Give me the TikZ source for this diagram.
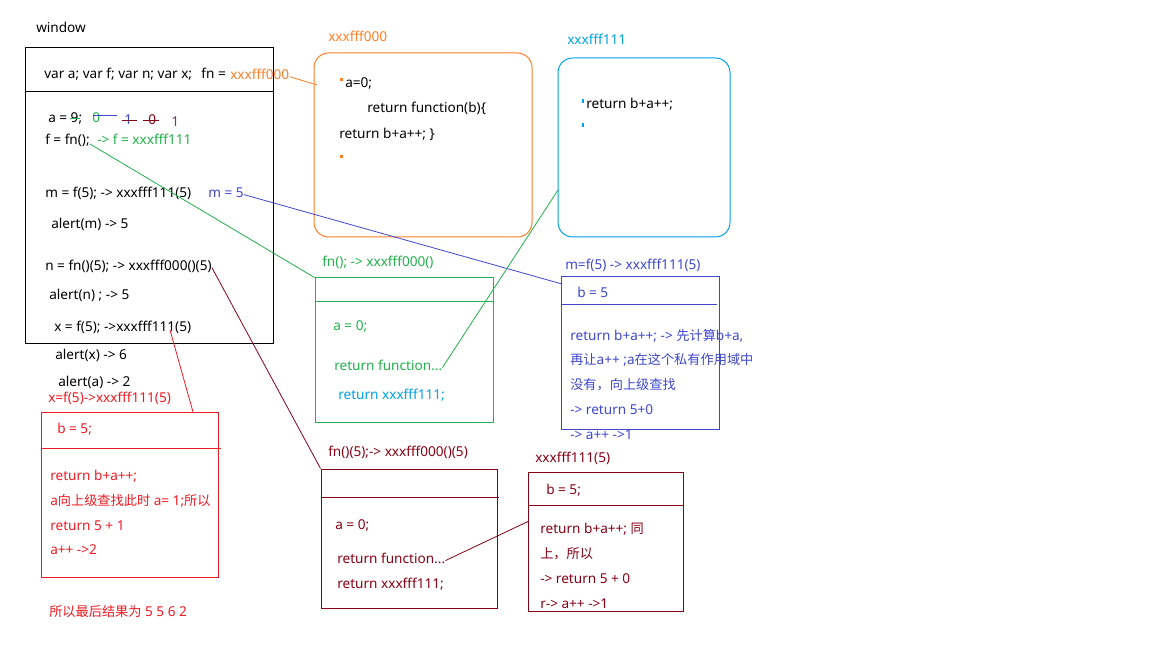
\documentclass[tikz,border=0pt]{standalone}
\usepackage{fontspec}
\setmainfont{Noto Sans}
\newfontfamily\cjk[Scale=0.97]{Noto Sans CJK SC}
\newcommand\zh[1]{{\cjk #1}}
\usetikzlibrary{fit}
\definecolor{porange}{HTML}{FF7F27}
\definecolor{pcyan}{HTML}{00A2E8}
\definecolor{pgreen}{HTML}{22B14C}
\definecolor{pindigo}{HTML}{3F48CC}
\definecolor{pmaroon}{HTML}{880015}
\definecolor{pred}{HTML}{ED1C24}
\definecolor{pplum}{HTML}{8B2A7A}
\begin{document}
\begin{tikzpicture}[x=0.75pt,y=-0.75pt,
  font=\fontsize{10.2}{12}\selectfont,
  txt/.style={anchor=west, inner sep=0pt, text height=7pt, text depth=2pt, yshift=-1.2pt},
  box/.style={draw, inner sep=0pt, line width=0.75pt},
  rbox/.style={box, rounded corners=11pt},
  link/.style={line width=0.6pt}]
\path[use as bounding box, fill=white] (0,0) rectangle (1152,648);

% ---------- global scope (window) ----------
\node[txt] (lwin) at (36,28) {window};
\node[box, fit={(25,48)(273,344)}] (win) {};
\draw[line width=0.75pt] (25,92) -- (273,92);
\node[txt] (decl) at (44,74) {var a; var f; var n; var x;\hspace{7pt}fn =};
\node[txt, text=porange] (fnaddr) at (230,75) {xxxfff000};
\node[txt] (aset) at (48,118) {a = 9;};
\node[txt, text=pgreen] (a0) at (92,118) {0};
\node[txt, text=pindigo] (a1) at (124,120) {1};
\node[txt, text=pmaroon] (a2) at (148,120) {0};
\node[txt, text=pplum] (a3) at (171,122) {1};
\draw[pgreen, link] (70,118) -- (80,118);
\draw[pindigo, link] (93,115) -- (117,115);
\draw[pmaroon, link] (122,120) -- (137,120);
\draw[pmaroon, link] (143,120) -- (159,120);
\node[txt] (fset) at (45,140) {f = fn();};
\node[txt, text=pgreen] (fres) at (97,140) {-> f = xxxfff111};
\node[txt] (mset) at (45,193) {m = f(5); -> xxxfff111(5)};
\node[txt, text=pindigo] (mres) at (208,193) {m = 5};
\node[txt] (malert) at (51,224) {alert(m) -> 5};
\node[txt] (nset) at (45,266) {n = fn()(5); -> xxxfff000()(5)};
\node[txt] (nalert) at (49,295) {alert(n) ; -> 5};
\node[txt] (xset) at (54,327) {x = f(5); ->xxxfff111(5)};
\node[txt] (xalert) at (55,355) {alert(x) -> 6};
\node[txt] (aalert) at (58,382) {alert(a) -> 2};

% ---------- heap: function xxxfff000 ----------
\node[txt, text=porange] (lobox) at (328,37) {xxxfff000};
\node[rbox, draw=porange, fit={(314,53)(532,237)}] (obox) {};
\fill[porange] (340,78) rectangle (343,81);
\fill[porange] (340,155) rectangle (343,158);
\node[txt] (o1) at (345,83) {a=0;};
\node[txt] (o2) at (367,108) {return function(b)\{};
\node[txt] (o3) at (339,134) {return b+a++; \}};

% ---------- heap: function xxxfff111 ----------
\node[txt, text=pcyan] (lcbox) at (567,40) {xxxfff111};
\node[rbox, draw=pcyan, fit={(558,58)(730,237)}] (cbox) {};
\fill[pcyan] (582,99) rectangle (583.5,103);
\fill[pcyan] (582,123) rectangle (583.5,127);
\node[txt] (c1) at (586,104) {return b+a++;};

% ---------- private scope: fn() ----------
\node[txt, text=pgreen] (lgbox) at (322,262) {fn(); -> xxxfff000()};
\node[box, draw=pgreen, fit={(315,278)(493,422)}] (gbox) {};
\draw[pgreen, line width=0.75pt] (315,302) -- (493,302);
\node[txt, text=pgreen] (g1) at (333,326) {a = 0;};
\node[txt, text=pgreen] (gfun) at (334,366) {return function...};
\node[txt, text=pcyan] (g3) at (338,395) {return xxxfff111;};

% ---------- private scope: m = f(5) ----------
\node[txt, text=pindigo] (lbbox) at (565,265) {m=f(5) -> xxxfff111(5)};
\node[box, draw=pindigo, fit={(561,277)(719,429)}] (bbox) {};
\draw[pindigo, line width=0.75pt] (561,305) -- (717,305);
\node[txt, text=pindigo] (b0) at (577,293) {b = 5};
\node[txt, text=pindigo] (b1) at (570,336) {return b+a++; -> \zh{先计算}b+a,};
\node[txt, text=pindigo] (b2) at (570,360) {\zh{再让}a++ ;a\zh{在这个私有作用域中}};
\node[txt, text=pindigo] (b3) at (570,385) {\zh{没有，向上级查找}};
\node[txt, text=pindigo] (b4) at (570,410) {-> return 5+0};
\node[txt, text=pindigo] (b5) at (570,435) {-> a++ ->1};

% ---------- private scope: x = f(5) ----------
\node[txt, text=pred] (lrbox) at (48,398) {x=f(5)->xxxfff111(5)};
\node[box, draw=pred, fit={(41,412)(218,577)}] (rbox) {};
\draw[pred, line width=0.75pt] (41,448) -- (221,448);
\node[txt, text=pred] (r0) at (57,429) {b = 5;};
\node[txt, text=pred] (r1) at (50,476) {return b+a++;};
\node[txt, text=pred] (r2) at (50,501) {a\zh{向上级查找此时} a= 1;\zh{所以}};
\node[txt, text=pred] (r3) at (50,526) {return 5 + 1};
\node[txt, text=pred] (r4) at (50,550) {a++ ->2};
\node[txt, text=pred] (res) at (49,612) {\zh{所以最后结果为} 5 5 6 2};

% ---------- private scope: fn()(5) ----------
\node[txt, text=pmaroon] (ldbox) at (328,452) {fn()(5);-> xxxfff000()(5)};
\node[box, draw=pmaroon, fit={(321,469)(497,608)}] (dbox) {};
\draw[pmaroon, line width=0.75pt] (321,497) -- (499,497);
\node[txt, text=pmaroon] (d1) at (335,525) {a = 0;};
\node[txt, text=pmaroon] (dfun) at (337,559) {return function...};
\node[txt, text=pmaroon] (d3) at (337,584) {return xxxfff111;};

% ---------- private scope: xxxfff111(5) ----------
\node[txt, text=pmaroon] (lebox) at (535,458) {xxxfff111(5)};
\node[box, draw=pmaroon, fit={(528,472)(683,611)}] (ebox) {};
\draw[pmaroon, line width=0.75pt] (528,505) -- (683,505);
\node[txt, text=pmaroon] (e0) at (546,490) {b = 5;};
\node[txt, text=pmaroon] (e1) at (540,529) {return b+a++; \zh{同}};
\node[txt, text=pmaroon] (e2) at (540,554) {\zh{上，所以}};
\node[txt, text=pmaroon] (e3) at (540,579) {-> return 5 + 0};
\node[txt, text=pmaroon] (e4) at (540,604) {r-> a++ ->1};

% ---------- references ----------
\coordinate (oin) at (317,85);
\coordinate (fsrc) at (90,144);
\coordinate (bin) at (562,284);
\coordinate (cin) at (558,190);
\coordinate (xsrc) at (170,330);
\coordinate (rin) at (193,412);
\coordinate (ein) at (529,521);
\draw[link, porange] (fnaddr.east) -- (oin);
\draw[link, pgreen] (fsrc) -- (gbox.north west);
\draw[link, pindigo] (mres.east) -- (bin);
\draw[link, pgreen] (gfun.east) -- (cin);
\draw[link, pmaroon] (nset.east) -- (dbox.north west);
\draw[link, pred] (xsrc) -- (rin);
\draw[link, pmaroon] (dfun.east) -- (ein);
\end{tikzpicture}
\end{document}
